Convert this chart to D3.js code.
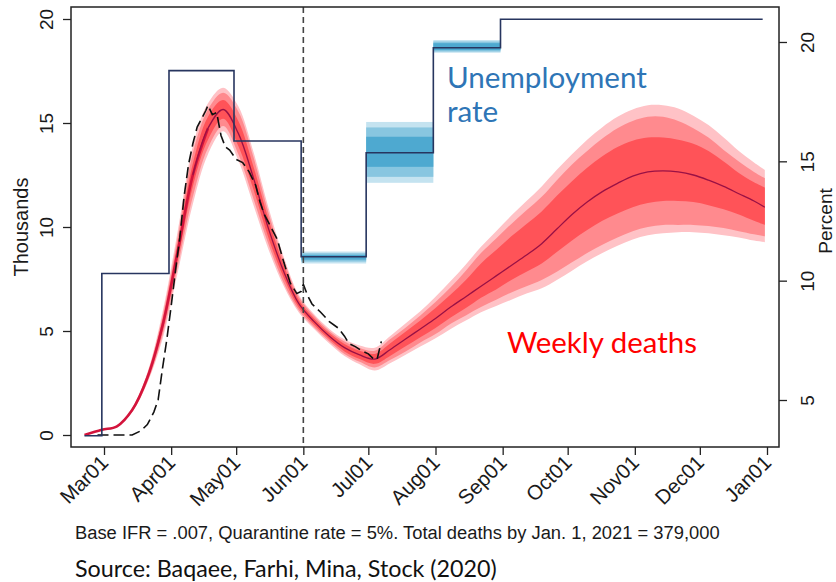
<!DOCTYPE html>
<html><head><meta charset="utf-8">
<script src="https://cdn.jsdelivr.net/npm/d3@7"></script>
<style>body{margin:0;background:#fff} svg{display:block}</style>
</head><body>
<svg id="c" width="836" height="582"></svg>
<script>
// ---------- data ----------
const forecastDates = ["2020-02-21","2020-02-29","2020-03-07","2020-03-14","2020-03-21","2020-03-28","2020-04-04","2020-04-11","2020-04-18","2020-04-25","2020-05-02","2020-05-09","2020-05-16","2020-05-23","2020-05-30","2020-06-06","2020-06-13","2020-06-20","2020-06-27","2020-07-04","2020-07-11","2020-07-18","2020-07-25","2020-08-01","2020-08-08","2020-08-15","2020-08-22","2020-08-29","2020-09-05","2020-09-12","2020-09-19","2020-09-26","2020-10-03","2020-10-10","2020-10-17","2020-10-24","2020-10-31","2020-11-07","2020-11-14","2020-11-21","2020-11-28","2020-12-05","2020-12-12","2020-12-19","2020-12-26","2020-12-31"];
const deathsMedian = [0.0,0.25,0.42,1.2,2.75,5.25,8.8,12.5,14.75,15.65,14.5,12.35,9.9,7.85,6.3,5.45,4.75,4.2,3.85,3.65,4.1,4.6,5.1,5.6,6.15,6.65,7.15,7.65,8.15,8.65,9.2,9.9,10.6,11.2,11.7,12.1,12.45,12.65,12.7,12.65,12.5,12.25,11.95,11.6,11.25,10.95];
const outerLo = [0.0,0.23,0.39,1.1,2.5,4.6,7.8,11.1,13.5,14.6,13.2,11.05,8.9,7.15,5.88,5.1,4.4,3.8,3.4,3.1,3.45,3.85,4.25,4.65,5.1,5.5,5.9,6.2,6.5,6.8,7.05,7.45,7.9,8.35,8.75,9.1,9.4,9.6,9.7,9.75,9.75,9.7,9.6,9.5,9.35,9.27];
const midLo   = [0.0,0.235,0.4,1.12,2.55,4.8,8.1,11.45,13.8,14.85,13.5,11.35,9.15,7.3,5.98,5.18,4.5,3.9,3.52,3.25,3.6,4.0,4.45,4.85,5.35,5.75,6.15,6.5,6.85,7.15,7.45,7.85,8.3,8.75,9.15,9.5,9.8,10.0,10.1,10.1,10.1,10.05,9.95,9.8,9.65,9.55];
const innerLo = [0.0,0.24,0.41,1.15,2.63,5.0,8.4,11.95,14.2,15.2,13.9,11.8,9.45,7.55,6.12,5.3,4.6,4.02,3.65,3.42,3.8,4.25,4.7,5.15,5.65,6.1,6.6,7.0,7.45,7.85,8.25,8.8,9.35,9.85,10.3,10.65,10.95,11.15,11.25,11.25,11.2,11.05,10.85,10.6,10.3,10.1];
const innerHi = [0.0,0.26,0.44,1.25,2.87,5.5,9.2,13.05,15.3,16.1,15.1,12.9,10.35,8.15,6.48,5.6,4.9,4.38,4.05,3.9,4.4,4.95,5.5,6.1,6.75,7.45,8.25,8.9,9.55,10.15,10.75,11.5,12.2,12.85,13.4,13.85,14.15,14.3,14.3,14.2,14.0,13.65,13.15,12.6,12.15,11.9];
const midHi   = [0.0,0.265,0.45,1.28,2.95,5.7,9.5,13.55,15.65,16.45,15.55,13.35,10.65,8.4,6.62,5.72,5.0,4.5,4.18,4.05,4.6,5.15,5.75,6.4,7.1,7.9,8.75,9.45,10.15,10.8,11.45,12.25,13.0,13.65,14.25,14.75,15.1,15.3,15.3,15.1,14.75,14.3,13.7,13.15,12.65,12.35];
const outerHi = [0.0,0.27,0.46,1.3,3.0,5.9,9.8,13.9,15.95,16.7,15.8,13.6,10.9,8.55,6.72,5.8,5.1,4.6,4.3,4.2,4.75,5.35,5.95,6.65,7.4,8.2,9.05,9.8,10.55,11.25,11.95,12.75,13.5,14.2,14.8,15.3,15.65,15.85,15.85,15.7,15.35,14.9,14.3,13.65,13.1,12.74];

const observedDates = ["2020-02-27","2020-03-14","2020-03-18","2020-03-21","2020-03-24","2020-03-26","2020-03-28","2020-03-30","2020-04-01","2020-04-03","2020-04-05","2020-04-07","2020-04-09","2020-04-11","2020-04-13","2020-04-15","2020-04-17","2020-04-18","2020-04-20","2020-04-22","2020-04-24","2020-04-26","2020-04-28","2020-05-01","2020-05-04","2020-05-07","2020-05-10","2020-05-12","2020-05-14","2020-05-17","2020-05-20","2020-05-23","2020-05-26","2020-05-29","2020-05-31","2020-06-01","2020-06-03","2020-06-05","2020-06-09","2020-06-13","2020-06-17","2020-06-20","2020-06-22","2020-06-25","2020-06-28","2020-07-01","2020-07-03","2020-07-05","2020-07-07"];
const observedDeaths = [0,0,0.2,0.5,1.1,1.7,3.2,4.6,6.2,7.9,9.5,11.5,13.0,14.0,14.8,15.2,15.6,15.85,15.4,15.5,14.4,13.85,13.7,13.25,13.1,12.65,12.0,11.2,10.6,10.0,9.4,8.3,7.3,6.8,6.9,7.25,6.7,6.3,5.9,5.45,5.15,4.75,4.4,4.25,4.05,3.9,3.7,3.62,4.5];

const unempDates = ["2020-02-21","2020-02-29","2020-03-31","2020-04-30","2020-05-31","2020-06-30","2020-07-31","2020-08-31","2020-12-30"];
const unempRate  = [3.5,10.3,18.8,15.85,11.0,15.36,19.76,20.95,20.95];

const unempBandStart = ["2020-05-31","2020-06-30","2020-07-31"];
const unempBandEnd   = ["2020-06-30","2020-07-31","2020-08-31"];
const unempOuterLo = [10.72,14.10,19.55];
const unempOuterHi = [11.22,16.65,20.08];
const unempMidLo   = [10.80,14.35,19.60];
const unempMidHi   = [11.15,16.42,20.02];
const unempInnerLo = [10.88,14.77,19.66];
const unempInnerHi = [11.08,16.03,19.95];

const xTickDates = ["2020-03-01","2020-04-01","2020-05-01","2020-06-01","2020-07-01","2020-08-01","2020-09-01","2020-10-01","2020-11-01","2020-12-01","2021-01-01"];
const leftTicks = [0,5,10,15,20];
const rightTicks = [5,10,15,20];
const policyDate = "2020-06-01";

const leftTitle = "Thousands", rightTitle = "Percent";
const unempLabel = ["Unemployment","rate"];
const deathsLabel = "Weekly deaths";
const noteText = "Base IFR = .007, Quarantine rate = 5%. Total deaths by Jan. 1, 2021 = 379,000";
const sourceText = "Source: Baqaee, Farhi, Mina, Stock (2020)";

// ---------- scales ----------
const parse = d3.timeParse("%Y-%m-%d");
const svg = d3.select("#c");
const plot = {left:71, right:779, top:7, bottom:447};

const x = d3.scaleTime().domain([parse("2020-03-01"), parse("2021-01-01")]).range([104, 767]);
const yL = d3.scaleLinear().domain([-0.577, 20.577]).range([plot.bottom, plot.top]);
const yR = d3.scaleLinear().domain([3.031, 21.466]).range([plot.bottom, plot.top]);

const fc = forecastDates.map((d,i)=>({date:parse(d), m:deathsMedian[i],
  oLo:outerLo[i], oHi:outerHi[i], mLo:midLo[i], mHi:midHi[i], iLo:innerLo[i], iHi:innerHi[i]}));
const curve = d3.curveCatmullRom.alpha(0.5);

// red bands
const bands = [["oLo","oHi","#ffc2c6"],["mLo","mHi","#ff8a8e"],["iLo","iHi","#ff5358"]];
bands.forEach(([lo,hi,col])=>{
  svg.append("path").datum(fc)
    .attr("d", d3.area().x(d=>x(d.date)).y0(d=>yL(d[lo])).y1(d=>yL(d[hi])).curve(curve))
    .attr("fill", col);
});
// median line: crimson early, maroon later
const medLine = d3.line().x(d=>x(d.date)).y(d=>yL(d.m)).curve(curve);
svg.append("path").datum(fc.slice(0,9)).attr("d", medLine)
  .attr("fill","none").attr("stroke","#d3143c").attr("stroke-width",2.6);
svg.append("path").datum(fc.slice(7)).attr("d", medLine)
  .attr("fill","none").attr("stroke","#9a1145").attr("stroke-width",1.3);

// unemployment bands
const ub = unempBandStart.map((s,i)=>({s:parse(s), e:parse(unempBandEnd[i]),
  layers:[[unempOuterLo[i],unempOuterHi[i],"#c4e3f0"],[unempMidLo[i],unempMidHi[i],"#88c6e0"],[unempInnerLo[i],unempInnerHi[i],"#4ea9d0"]]}));
ub.forEach(b=>{
  b.layers.forEach(([lo,hi,col])=>{
    svg.append("rect").attr("x",x(b.s)).attr("width",x(b.e)-x(b.s))
      .attr("y",yR(hi)).attr("height",yR(lo)-yR(hi)).attr("fill",col);
  });
});

// observed deaths dashed
const obs = observedDates.map((d,i)=>({date:parse(d), v:observedDeaths[i]}));
svg.append("path").datum(obs)
  .attr("d", d3.line().x(d=>x(d.date)).y(d=>yL(d.v)))
  .attr("fill","none").attr("stroke","#111").attr("stroke-width",1.6)
  .attr("stroke-dasharray","11,5");

// unemployment step line
const un = unempDates.map((d,i)=>({date:parse(d), v:unempRate[i]}));
svg.append("path").datum(un)
  .attr("d", d3.line().x(d=>x(d.date)).y(d=>yR(d.v)).curve(d3.curveStepAfter))
  .attr("fill","none").attr("stroke","#27355f").attr("stroke-width",1.6);

// policy vertical dashed line
svg.append("line").attr("x1",x(parse(policyDate))).attr("x2",x(parse(policyDate)))
  .attr("y1",plot.top).attr("y2",plot.bottom)
  .attr("stroke","#444").attr("stroke-width",1.6).attr("stroke-dasharray","6,4");

// frame
svg.append("rect").attr("x",plot.left).attr("y",plot.top)
  .attr("width",plot.right-plot.left).attr("height",plot.bottom-plot.top)
  .attr("fill","none").attr("stroke","#222").attr("stroke-width",1.5);

// axes
const axisFont = "'Liberation Sans', Arial, sans-serif";
const gl = svg.append("g").attr("transform",`translate(${plot.left},0)`)
  .call(d3.axisLeft(yL).tickValues(leftTicks).tickSize(8).tickFormat(d3.format("d")));
const gr = svg.append("g").attr("transform",`translate(${plot.right},0)`)
  .call(d3.axisRight(yR).tickValues(rightTicks).tickSize(8).tickFormat(d3.format("d")));
const gb = svg.append("g").attr("transform",`translate(0,${plot.bottom})`)
  .call(d3.axisBottom(x).tickValues(xTickDates.map(parse)).tickSize(8).tickFormat(d3.timeFormat("%b%d")));
[gl,gr,gb].forEach(g=>{
  g.select(".domain").remove();
  g.selectAll(".tick line").attr("stroke","#222").attr("stroke-width",1.3);
  g.selectAll("text").attr("font-family",axisFont).attr("font-size",19).attr("fill","#1a1a1a");
});
gl.selectAll(".tick text").attr("x",null).attr("dy",null)
  .attr("transform","translate(-18,0) rotate(-90)").attr("text-anchor","middle").attr("y",0);
gr.selectAll(".tick text").attr("x",null).attr("dy",null)
  .attr("transform","translate(35,0) rotate(-90)").attr("text-anchor","middle").attr("y",0);
gb.selectAll(".tick text").attr("y",null).attr("dy",null).attr("font-size",20.5)
  .attr("transform","translate(5,17) rotate(-45)").attr("text-anchor","end");

// axis titles
svg.append("text").attr("transform","translate(28,227) rotate(-90)").attr("text-anchor","middle")
  .attr("font-family",axisFont).attr("font-size",20).attr("fill","#1a1a1a").text(leftTitle);
svg.append("text").attr("transform","translate(832,221) rotate(-90)").attr("text-anchor","middle")
  .attr("font-family",axisFont).attr("font-size",19).attr("fill","#1a1a1a").text(rightTitle);

// helper to fit text width
function fit(sel, target){
  const w = sel.node().getComputedTextLength();
  const fs = parseFloat(sel.attr("font-size"));
  sel.attr("font-size", fs*target/w);
}
const labFont = "Lato, 'Open Sans', sans-serif";
const u1 = svg.append("text").attr("x",447).attr("y",88).attr("font-family",labFont)
  .attr("font-size",30).attr("fill","#2e75b6").text(unempLabel[0]);
fit(u1,200);
svg.append("text").attr("x",447).attr("y",122).attr("font-family",labFont)
  .attr("font-size",u1.attr("font-size")).attr("fill","#2e75b6").text(unempLabel[1]);
const wd = svg.append("text").attr("x",507).attr("y",353).attr("font-family",labFont)
  .attr("font-size",30).attr("fill","#ff0000").text(deathsLabel);
fit(wd,190);

const nt = svg.append("text").attr("x",75).attr("y",539).attr("font-family",axisFont)
  .attr("font-size",16).attr("fill","#1a1a1a").text(noteText);
fit(nt,645);
const st = svg.append("text").attr("x",75).attr("y",577).attr("font-family",labFont)
  .attr("font-size",22).attr("fill","#111").text(sourceText);
fit(st,422);
</script>
</body></html>
